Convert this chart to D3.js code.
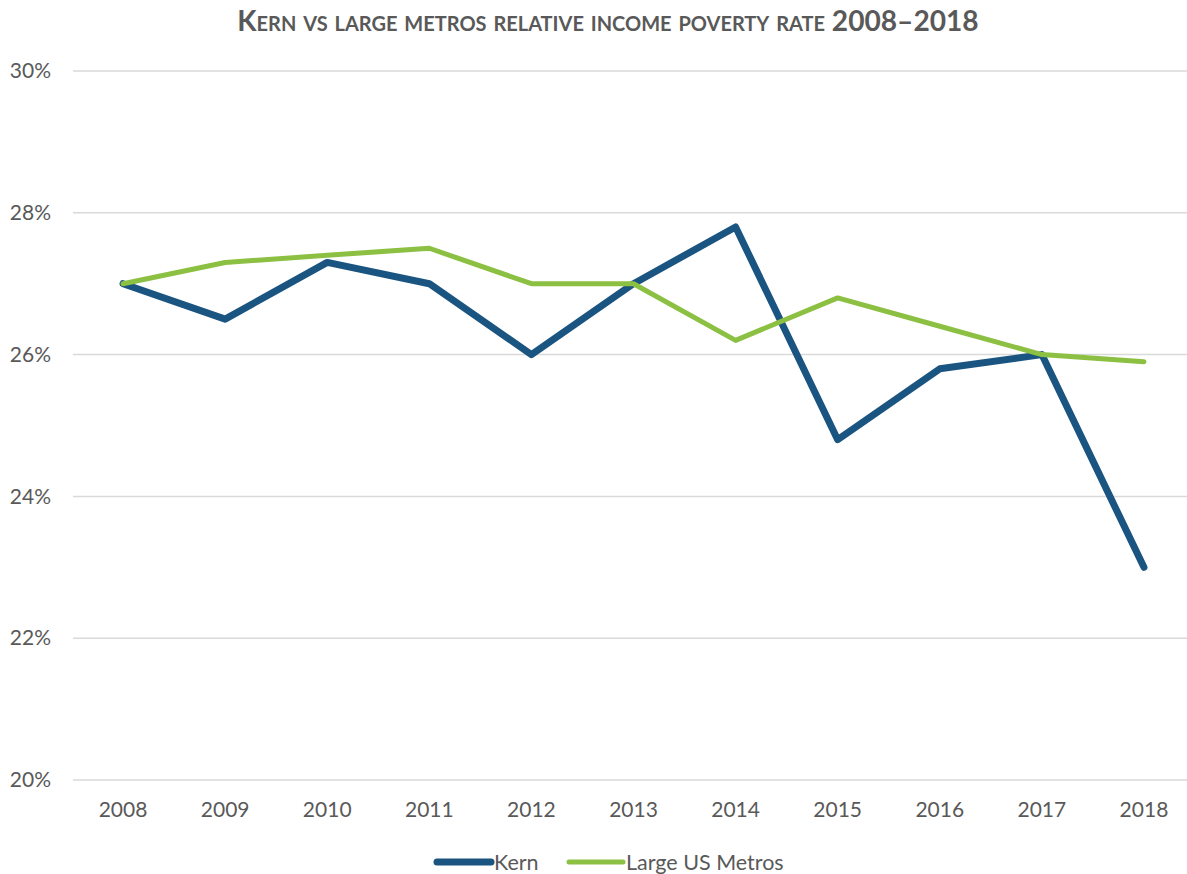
<!DOCTYPE html>
<html>
<head>
<meta charset="utf-8">
<script src="https://cdn.jsdelivr.net/npm/d3@7"></script>
<style>
  body { margin: 0; background: #fff; }
  svg { display: block; }
  text { font-family: Lato, "Open Sans", sans-serif; fill: #595959; }
</style>
</head>
<body>
<svg id="chart"></svg>
<script>
const years = ["2008", "2009", "2010", "2011", "2012", "2013", "2014", "2015", "2016", "2017", "2018"];
const kern = [27.0, 26.5, 27.3, 27.0, 26.0, 27.0, 27.8, 24.8, 25.8, 26.0, 23.0];
const metros = [27.0, 27.3, 27.4, 27.5, 27.0, 27.0, 26.2, 26.8, 26.4, 26.0, 25.9];
const yTicks = [20, 22, 24, 26, 28, 30];
const seriesNames = ["Kern", "Large US Metros"];
const colors = ["#1a5480", "#8cc043"];

const W = 1187, H = 874;
const svg = d3.select("#chart").attr("width", W).attr("height", H);

const x = d3.scaleBand().domain(years).range([72, 1195]);
const y = d3.scaleLinear().domain([20, 30]).range([780, 71]);

// gridlines
svg.append("g")
  .selectAll("line")
  .data(yTicks)
  .join("line")
  .attr("x1", 73)
  .attr("x2", 1196)
  .attr("y1", (d) => y(d))
  .attr("y2", (d) => y(d))
  .attr("stroke", "#d9d9d9")
  .attr("stroke-width", 1.5);

// y axis labels
const yAxis = svg.append("g")
  .attr("transform", "translate(51,0)")
  .call(d3.axisLeft(y).tickValues(yTicks).tickSize(0).tickPadding(0).tickFormat((d) => d + "%"));
yAxis.select(".domain").remove();
yAxis.selectAll("text")
  .attr("font-size", 21)
  .attr("font-family", "Lato, sans-serif")
  .attr("fill", "#595959");

// x axis labels
const xAxis = svg.append("g")
  .attr("transform", "translate(0,802)")
  .call(d3.axisBottom(x).tickSize(0).tickPadding(0));
xAxis.select(".domain").remove();
xAxis.selectAll("text")
  .attr("font-size", 21)
  .attr("font-family", "Lato, sans-serif")
  .attr("fill", "#595959");

const line = d3.line()
  .x((d, i) => x(years[i]) + x.bandwidth() / 2)
  .y((d) => y(d));

svg.append("path")
  .datum(kern)
  .attr("fill", "none")
  .attr("stroke", colors[0])
  .attr("stroke-width", 7)
  .attr("stroke-linejoin", "round")
  .attr("stroke-linecap", "round")
  .attr("d", line);

svg.append("path")
  .datum(metros)
  .attr("fill", "none")
  .attr("stroke", colors[1])
  .attr("stroke-width", 5)
  .attr("stroke-linejoin", "round")
  .attr("stroke-linecap", "round")
  .attr("d", line);

// title
const title = svg.append("text")
  .attr("x", 608)
  .attr("y", 31)
  .attr("text-anchor", "middle")
  .attr("font-weight", "bold")
  .attr("font-size", 26)
  .style("font-variant", "small-caps")
  .text("Kern vs large metros relative income poverty rate 2008–2018");
const tw = title.node().getComputedTextLength();
title.attr("font-size", 26 * 728 / tw);

// legend
const legendX = [435, 567];
const legend = svg.append("g")
  .selectAll("g")
  .data(seriesNames)
  .join("g")
  .attr("transform", (d, i) => `translate(${legendX[i]},862)`);
legend.append("line")
  .attr("x1", 2)
  .attr("x2", 56)
  .attr("stroke", (d, i) => colors[i])
  .attr("stroke-width", (d, i) => (i === 0 ? 7 : 5))
  .attr("stroke-linecap", "round");
legend.append("text")
  .attr("x", 59)
  .attr("y", 8)
  .attr("font-size", 21.5)
  .text((d) => d);
</script>
</body>
</html>
